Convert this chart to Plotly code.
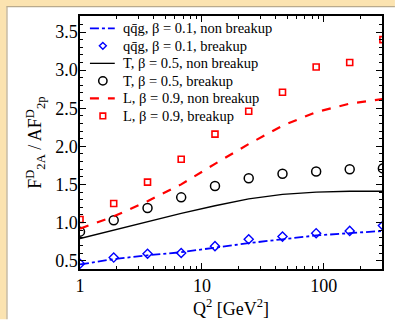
import plotly.graph_objects as go

q2 = [1.0, 1.89, 3.58, 6.76, 12.8, 24.2, 45.8, 86.5, 163.0, 305.0]

qqg_line = [0.45, 0.52, 0.57, 0.61, 0.67, 0.73, 0.78, 0.83, 0.86, 0.89]
qqg_pts = [0.46, 0.54, 0.59, 0.60, 0.69, 0.78, 0.815, 0.86, 0.89, 0.96]
T_line = [0.79, 0.90, 1.01, 1.12, 1.22, 1.31, 1.37, 1.40, 1.41, 1.41]
T_pts = [0.88, 1.03, 1.19, 1.33, 1.48, 1.58, 1.64, 1.67, 1.70, 1.71]
L_line = [0.92, 1.08, 1.28, 1.50, 1.77, 2.03, 2.27, 2.45, 2.56, 2.62]
L_pts = [1.04, 1.25, 1.53, 1.83, 2.16, 2.46, 2.71, 3.04, 3.10, 3.40]

names = [
    "qq\u0304g, \u03b2 = 0.1, non breakup",
    "qq\u0304g, \u03b2 = 0.1, breakup",
    "T, \u03b2 = 0.5, non breakup",
    "T, \u03b2 = 0.5, breakup",
    "L, \u03b2 = 0.9, non breakup",
    "L, \u03b2 = 0.9, breakup",
]

FONT = "Liberation Serif"
BLUE, BLACK, RED = "#0000ff", "#000000", "#ff0000"

fig = go.Figure()
fig.add_trace(go.Scatter(x=q2, y=qqg_line, mode="lines", name=names[0],
                         line=dict(color=BLUE, width=1.8, dash="dashdot")))
fig.add_trace(go.Scatter(x=q2, y=qqg_pts, mode="markers", name=names[1],
                         marker=dict(symbol="diamond-open", color=BLUE, size=7, line=dict(width=1.4))))
fig.add_trace(go.Scatter(x=q2, y=T_line, mode="lines", name=names[2],
                         line=dict(color=BLACK, width=1.3)))
fig.add_trace(go.Scatter(x=q2, y=T_pts, mode="markers", name=names[3],
                         marker=dict(symbol="circle-open", color=BLACK, size=9, line=dict(width=1.5))))
fig.add_trace(go.Scatter(x=q2, y=L_line, mode="lines", name=names[4],
                         line=dict(color=RED, width=2.2, dash="dash")))
fig.add_trace(go.Scatter(x=q2, y=L_pts, mode="markers", name=names[5],
                         marker=dict(symbol="square-open", color=RED, size=6, line=dict(width=1.6))))

L, R, T, B = 80, 11, 16, 49
W, H = 395, 322
pw, ph = W - L - R, H - T - B

def px(xp):
    return (xp - L) / pw

def py(yp):
    return 1 - (yp - T) / ph

beige = "#FBE3B0"
shapes = [
    dict(type="rect", xref="paper", yref="paper", x0=px(-2), x1=px(6), y0=py(-2), y1=py(H + 2),
         fillcolor=beige, line=dict(width=0), layer="below"),
    dict(type="rect", xref="paper", yref="paper", x0=px(-2), x1=px(W + 2), y0=py(-2), y1=py(6),
         fillcolor=beige, line=dict(width=0), layer="below"),
    dict(type="line", xref="paper", yref="paper", x0=px(6.5), x1=px(6.5), y0=py(6), y1=py(H + 2),
         line=dict(color="#b9aa8c", width=1.2), layer="below"),
    dict(type="line", xref="paper", yref="paper", x0=px(6), x1=px(W + 2), y0=py(6.5), y1=py(6.5),
         line=dict(color="#b9aa8c", width=1.2), layer="below"),
]

# manual legend (glyph + text) in the upper-left corner of the plot
row0, gap = 28.5, 17.8
gx0, gx1, gxc, tx = 90, 115, 103, 121
annotations = []
for i, nm in enumerate(names):
    yc = row0 + i * gap
    annotations.append(dict(text=nm, xref="paper", yref="paper", x=px(tx), y=py(yc),
                            xanchor="left", yanchor="middle", showarrow=False,
                            font=dict(family=FONT, size=14.5, color="black")))
    if i == 0:
        shapes.append(dict(type="line", xref="paper", yref="paper", x0=px(gx0), x1=px(gx1),
                           y0=py(yc), y1=py(yc), line=dict(color=BLUE, width=1.8, dash="dashdot")))
    elif i == 1:
        r = 3.5
        path = "M {} {} L {} {} L {} {} L {} {} Z".format(
            px(gxc), py(yc - r), px(gxc + r), py(yc), px(gxc), py(yc + r), px(gxc - r), py(yc))
        shapes.append(dict(type="path", xref="paper", yref="paper", path=path,
                           line=dict(color=BLUE, width=1.4)))
    elif i == 2:
        shapes.append(dict(type="line", xref="paper", yref="paper", x0=px(gx0), x1=px(gx1),
                           y0=py(yc), y1=py(yc), line=dict(color=BLACK, width=1.3)))
    elif i == 3:
        r = 4.2
        shapes.append(dict(type="circle", xref="paper", yref="paper", x0=px(gxc - r), x1=px(gxc + r),
                           y0=py(yc + r), y1=py(yc - r), line=dict(color=BLACK, width=1.5)))
    elif i == 4:
        shapes.append(dict(type="line", xref="paper", yref="paper", x0=px(gx0), x1=px(gx1),
                           y0=py(yc), y1=py(yc), line=dict(color=RED, width=2.2, dash="dash")))
    else:
        r = 2.8
        shapes.append(dict(type="rect", xref="paper", yref="paper", x0=px(gxc - r), x1=px(gxc + r),
                           y0=py(yc + r), y1=py(yc - r), line=dict(color=RED, width=1.6)))

annotations.append(dict(text="F<sup>D</sup><sub>2A</sub> / AF<sup>D</sup><sub>2p</sub>",
                        xref="paper", yref="paper", x=px(35), y=0.5, xanchor="center", yanchor="middle",
                        textangle=-90, showarrow=False, font=dict(family=FONT, size=18, color="black")))

fig.update_layout(
    width=W, height=H,
    margin=dict(l=L, r=R, t=T, b=B),
    paper_bgcolor="white", plot_bgcolor="white",
    font=dict(family=FONT, size=18, color="black"),
    shapes=shapes,
    annotations=annotations,
    showlegend=False,
    xaxis=dict(type="log", range=[0, 2.477], showline=True, linecolor="black", linewidth=1.5,
               mirror="allticks", ticks="inside", ticklen=6, tickwidth=1, tickcolor="black",
               tickvals=[1, 10, 100], ticktext=["1", "10", "100"], showgrid=False, zeroline=False,
               minor=dict(ticks="inside", ticklen=3, tickcolor="black", showgrid=False,
                          tickvals=[2, 3, 4, 5, 6, 7, 8, 9, 20, 30, 40, 50, 60, 70, 80, 90, 200, 300]),
               title=dict(text="Q<sup>2</sup> [GeV<sup>2</sup>]", standoff=2, font=dict(size=18))),
    yaxis=dict(range=[0.39, 3.71], showline=True, linecolor="black", linewidth=1.5,
               mirror="allticks", ticks="inside", ticklen=6, tickwidth=1, tickcolor="black",
               dtick=0.5, tick0=0.5, tickformat=".1f", showgrid=False, zeroline=False,
               ticklabelstandoff=-3,
               minor=dict(ticks="inside", ticklen=3, dtick=0.1, tickcolor="black", showgrid=False)),
)

fig.write_html("out.html")
